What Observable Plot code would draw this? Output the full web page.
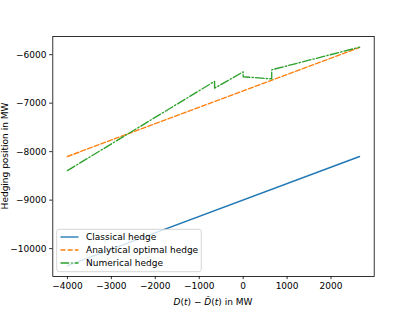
<!DOCTYPE html>
<html>
<head>
<meta charset="utf-8">
<script src="https://cdn.jsdelivr.net/npm/d3@7"></script>
<script src="https://cdn.jsdelivr.net/npm/@observablehq/plot@0.6"></script>
<style>
  html, body { margin: 0; padding: 0; background: white; }
  #wrap { position: relative; width: 415px; height: 311px; overflow: hidden; font-family: "DejaVu Sans", sans-serif; }
  #legend { position: absolute; left: 0; top: 0; }
</style>
</head>
<body>
<div id="wrap"></div>
<script>
// ---- data ----
const seriesNames = ["Classical hedge", "Analytical optimal hedge", "Numerical hedge"];
const classicalX = [-4000, 2650];
const classicalY = [-10350, -8100];
const analyticalX = [-4000, 2650];
const analyticalY = [-8100, -5850];
const numericalX = [-4000, -650, -650, 0, 0, 650, 650, 2650];
const numericalY = [-8390, -6550, -6690, -6355, -6455, -6500, -6312, -5845];
const xTicks = [-4000, -3000, -2000, -1000, 0, 1000, 2000];
const yTicks = [-10000, -9000, -8000, -7000, -6000];
const colors = ["#1f77b4", "#ff7f0e", "#2ca02c"];
const dashes = [null, "5,2.16", "8.64,2.16,1.35,2.16"];

const toRows = (xs, ys) => xs.map((x, i) => ({x, y: ys[i]}));
const classical = toRows(classicalX, classicalY);
const analytical = toRows(analyticalX, analyticalY);
const numerical = toRows(numericalX, numericalY);

const W = 415, H = 311;
const mL = 52.3, mR = 41.3, mT = 36, mB = 35;

const plot = Plot.plot({
  width: W, height: H,
  marginLeft: mL, marginRight: mR, marginTop: mT, marginBottom: mB,
  style: {fontFamily: "DejaVu Sans", fontSize: "9px", color: "black", background: "white"},
  x: {domain: [-4332.5, 2982.5]},
  y: {domain: [-10575, -5625]},
  marks: [
    Plot.line(classical, {x: "x", y: "y", stroke: colors[0], strokeWidth: 1.35}),
    Plot.line(analytical, {x: "x", y: "y", stroke: colors[1], strokeWidth: 1.35, strokeDasharray: dashes[1]}),
    Plot.line(numerical, {x: "x", y: "y", stroke: colors[2], strokeWidth: 1.35, strokeDasharray: dashes[2]}),
    Plot.frame({stroke: "black", strokeWidth: 0.8}),
    Plot.axisX({ticks: xTicks, tickFormat: d3.format("d"), tickSize: 3.15, tickPadding: 3.2, label: null, strokeWidth: 0.8}),
    Plot.axisY({ticks: yTicks, tickFormat: d3.format("d"), tickSize: 3.15, tickPadding: 3.2, label: null, strokeWidth: 0.8})
  ]
});

const wrap = document.getElementById("wrap");
wrap.appendChild(plot);

const svg = d3.select(plot);
// y label
svg.append("text")
  .attr("transform", `translate(7.6,${(mT + H - mB) / 2}) rotate(-90)`)
  .attr("text-anchor", "middle")
  .attr("font-size", 9)
  .attr("fill", "black")
  .text("Hedging position in MW");
// x label
const xl = svg.append("text")
  .attr("x", (mL + W - mR) / 2)
  .attr("y", 305)
  .attr("text-anchor", "middle")
  .attr("font-size", 9)
  .attr("fill", "black");
xl.append("tspan").attr("font-style", "italic").text("D");
xl.append("tspan").text("(");
xl.append("tspan").attr("font-style", "italic").text("t");
xl.append("tspan").text(") \u2212 ");
xl.append("tspan").attr("font-style", "italic").text("D\u0302");
xl.append("tspan").text("(");
xl.append("tspan").attr("font-style", "italic").text("t");
xl.append("tspan").text(") in MW");

// legend
const lg = d3.select(wrap).append("svg")
  .attr("id", "legend")
  .attr("width", W).attr("height", H);
lg.append("rect")
  .attr("x", 56.7).attr("y", 229.3)
  .attr("width", 144.6).attr("height", 42.4)
  .attr("rx", 2.5).attr("ry", 2.5)
  .attr("fill", "white").attr("fill-opacity", 0.8)
  .attr("stroke", "#cccccc").attr("stroke-width", 0.8);
seriesNames.forEach((name, i) => {
  const cy = 237 + i * 13;
  const ln = lg.append("line")
    .attr("x1", 60.5).attr("x2", 78.5)
    .attr("y1", cy).attr("y2", cy)
    .attr("stroke", colors[i]).attr("stroke-width", 1.35);
  if (dashes[i]) ln.attr("stroke-dasharray", dashes[i]);
  lg.append("text")
    .attr("x", 86).attr("y", cy + 3.3)
    .attr("font-family", "DejaVu Sans")
    .attr("font-size", 9)
    .attr("fill", "black")
    .text(name);
});
</script>
</body>
</html>
